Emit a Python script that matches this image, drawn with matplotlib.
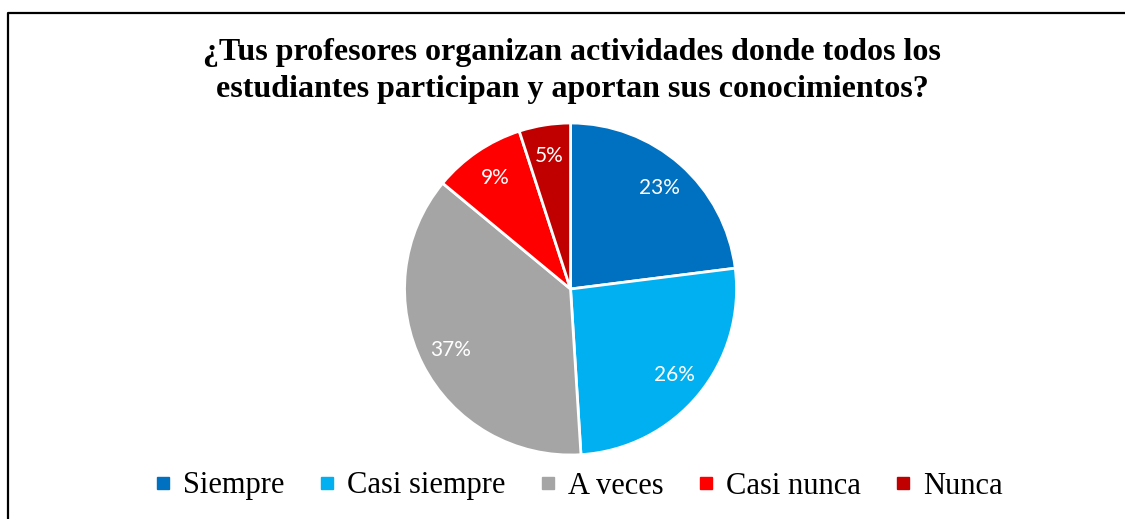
import matplotlib
matplotlib.use("Agg")
from matplotlib import pyplot as plt
from matplotlib.lines import Line2D

categories = ["Siempre", "Casi siempre", "A veces", "Casi nunca", "Nunca"]
percentages = [23, 26, 37, 9, 5]
colors = ["#0070C0", "#00B0F0", "#A5A5A5", "#FF0000", "#C00000"]
title = "¿Tus profesores organizan actividades donde todos los\nestudiantes participan y aportan sus conocimientos?"

fig = plt.figure(figsize=(11.25, 5.19), dpi=100)

# frame around the chart (only top and left edges visible)
fig.add_artist(Line2D([8 / 1125, 8 / 1125, 1.0], [0.0, 1 - 12.5 / 519, 1 - 12.5 / 519],
                      transform=fig.transFigure, color="black", lw=1.6))

# pie
ax = fig.add_axes([0.3596, 0.1233, 0.2951, 0.6397])
wedges, texts, autotexts = ax.pie(
    percentages, colors=colors, startangle=90, counterclock=False,
    autopct="%d%%", pctdistance=0.81, radius=1.0,
    wedgeprops=dict(edgecolor="white", linewidth=2.0),
    textprops=dict(color="white", fontsize=15, family="Lato"))
ax.set_xlim(-1.0, 1.0)
ax.set_ylim(-1.0, 1.0)
ax.set_aspect("equal")

fig.text(572 / 1125, 1 - 71 / 519, title, ha="center", va="center",
         fontsize=23, fontweight="bold", family="Liberation Serif", linespacing=1.38)

handles = [Line2D([], [], marker="s", linestyle="", color=c, markersize=8.5) for c in colors]
fig.legend(handles, categories, loc="center", bbox_to_anchor=(579 / 1125, 1 - 486 / 519),
           ncol=5, frameon=False, prop=dict(family="Liberation Serif", size=22),
           handlelength=0.5, handletextpad=0.4, columnspacing=1.15)

plt.savefig("out.png", dpi=100)
